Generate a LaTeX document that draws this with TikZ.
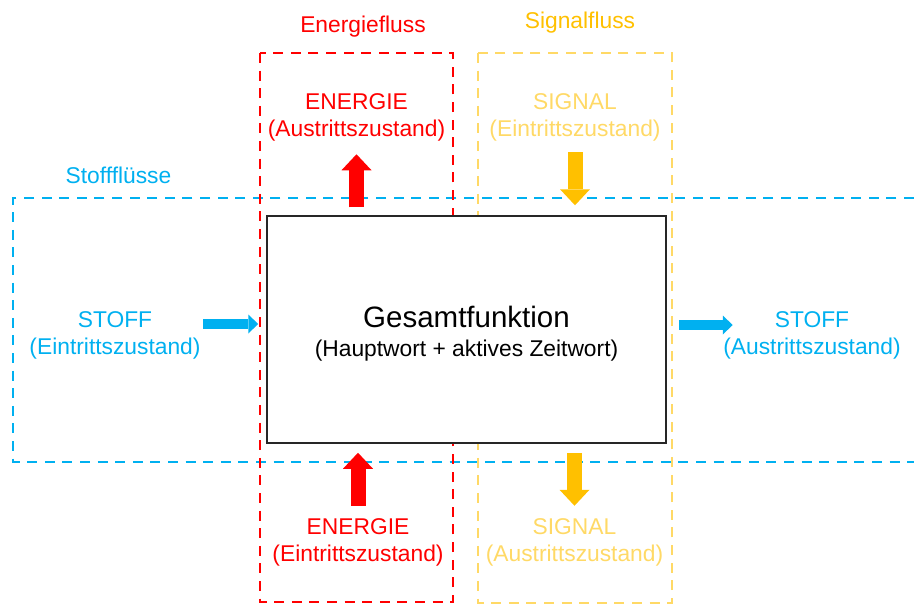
\documentclass[tikz,border=0pt]{standalone}
\usepackage{fontspec}
\setmainfont{Liberation Sans}
\usetikzlibrary{arrows.meta}
\definecolor{stoffblau}{HTML}{00B0F0}
\definecolor{energierot}{HTML}{FF0000}
\definecolor{signalgelb}{HTML}{FFC000}
\definecolor{signalhell}{HTML}{FFD966}
\begin{document}
\begin{tikzpicture}[x=1pt,y=-1pt,
		rahmen/.style={line width=2.5pt,dash pattern=on 10pt off 7.6pt},
		txt/.style={align=center,inner sep=0pt,font=\fontsize{22.8}{27}\selectfont},
		pfeil/.style={line width=15pt,-{Triangle[length=16pt,width=30pt,line width=0pt]}},
		spfeil/.style={line width=10pt,-{Triangle[length=10pt,width=19pt,line width=0pt]}}]
	\useasboundingbox (0,0) rectangle (914,606);
	% Rahmen der Fluesse
	\draw[rahmen,stoffblau] (914,198) -- (13,198) -- (13,462) -- (914,462);
	\draw[rahmen,energierot] (260,53) rectangle (453,602);
	\draw[rahmen,signalhell] (478,53) rectangle (672,603);
	% Gesamtfunktion
	\node[draw=black!85,line width=1.5pt,fill=white,minimum width=399pt,minimum height=227pt,
		align=center,font=\fontsize{22.8}{29}\selectfont] (fkt) at (466.5,329.5)
		{\rule{0pt}{30pt}{\fontsize{29.5}{29}\selectfont Gesamtfunktion}\\(Hauptwort + aktives Zeitwort)};
	% Ueberschriften
	\node[txt,energierot] (eatitel) at (363,27) {Energiefluss};
	\node[txt,signalgelb] (sgtitel) at (580,23) {Signalfluss};
	\node[txt,stoffblau] (sftitel) at (118.5,175) {Stoffflüsse};
	% Ein- und Austritt
	\node[txt,energierot] (ea) at (356.5,117) {ENERGIE\\(Austrittszustand)};
	\node[txt,signalhell] (se) at (575,117) {SIGNAL\\(Eintrittszustand)};
	\node[txt,stoffblau] (ste) at (115,335) {STOFF\\(Eintrittszustand)};
	\node[txt,stoffblau] (sta) at (812,335) {STOFF\\(Austrittszustand)};
	\node[txt,energierot] (ee) at (358,542) {ENERGIE\\(Eintrittszustand)};
	\node[txt,signalhell] (sa) at (574.5,542) {SIGNAL\\(Austrittszustand)};
	% Pfeile
	\draw[pfeil,energierot] ([yshift=8pt]fkt.north -| ea) -- ([yshift=61pt]fkt.north -| ea);
	\draw[pfeil,signalgelb] ([yshift=63pt]fkt.north -| se) -- ([yshift=10pt]fkt.north -| se);
	\draw[pfeil,energierot] ([yshift=-62pt]fkt.south -| ee) -- ([yshift=-9pt]fkt.south -| ee);
	\draw[pfeil,signalgelb] ([yshift=-9pt]fkt.south -| sa) -- ([yshift=-62pt]fkt.south -| sa);
	\draw[spfeil,stoffblau] ([shift={(-63pt,5.5pt)}]fkt.west) -- ([shift={(-8pt,5.5pt)}]fkt.west);
	\draw[spfeil,stoffblau] ([shift={(12pt,4.5pt)}]fkt.east) -- ([shift={(66pt,4.5pt)}]fkt.east);
\end{tikzpicture}
\end{document}
